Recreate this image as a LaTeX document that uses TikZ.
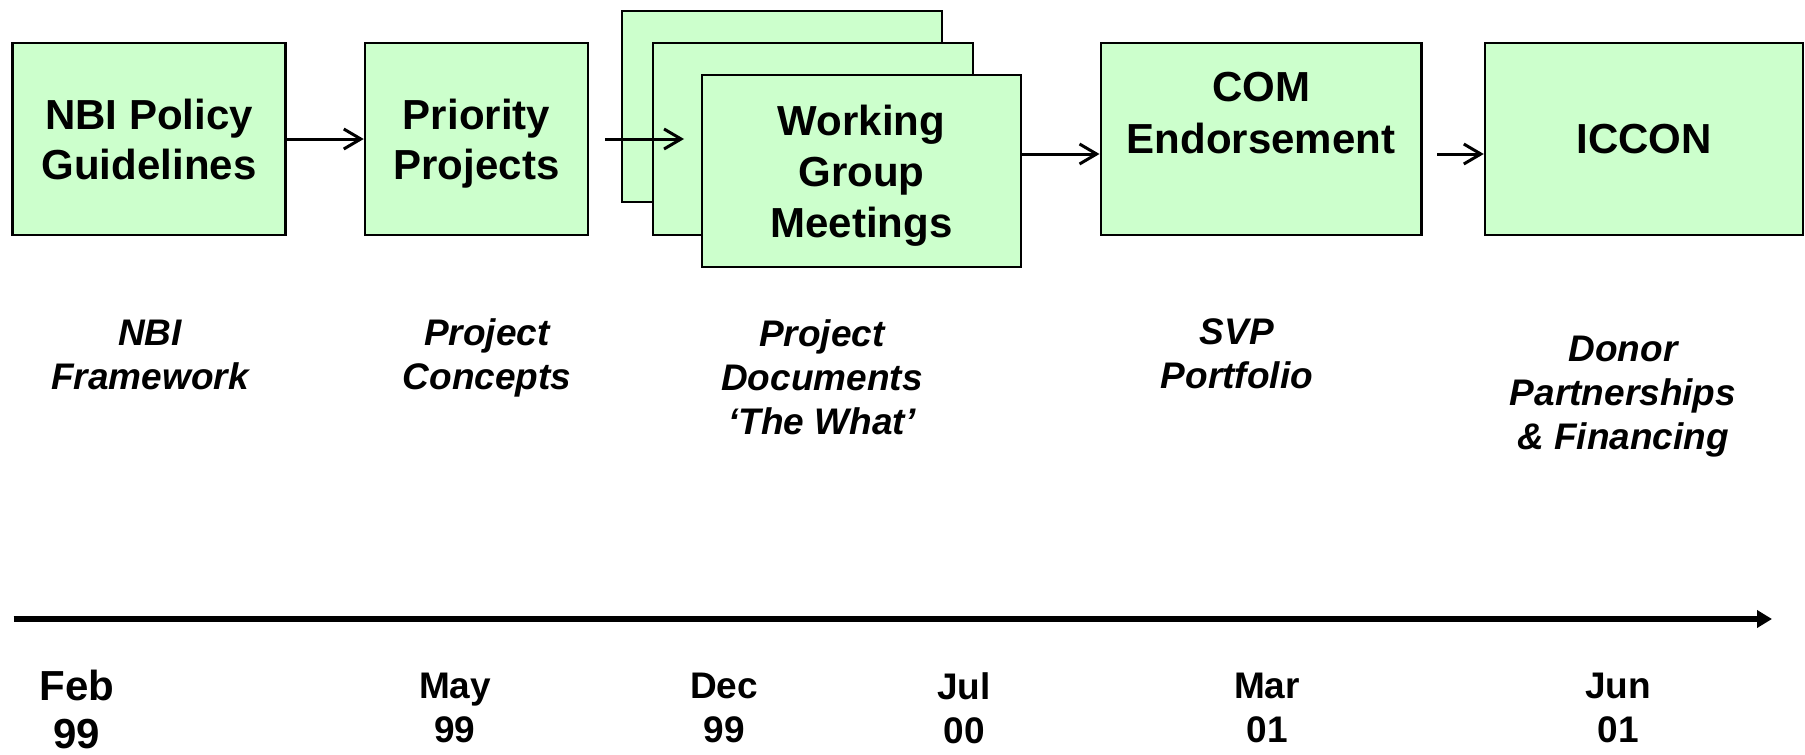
\documentclass[tikz,border=0pt]{standalone}
\usepackage{fontspec}
\setmainfont{Liberation Sans}
\usetikzlibrary{arrows.meta}
\definecolor{boxgreen}{RGB}{204,255,204}
\begin{document}
\begin{tikzpicture}[x=1pt,y=-1pt,
  stagebox/.style={draw=black, line width=2.5pt, fill=boxgreen, inner sep=0pt, align=center,
    font=\bfseries\fontsize{42}{50}\selectfont},
  lab/.style={inner sep=0pt, align=center, font=\bfseries\itshape\fontsize{37}{44}\selectfont},
  datelab/.style={inner sep=0pt, align=center, font=\bfseries\fontsize{37}{44}\selectfont},
  flow/.style={line width=3pt, -{Straight Barb[length=17pt,width=20pt]}},
  timeline/.style={line width=6pt, -{Triangle[length=15pt,width=17pt]}}
]
\useasboundingbox (0,0) rectangle (1805,755);
% stage boxes
\node[stagebox, minimum width=273pt, minimum height=192pt] (b1) at (149,139) {NBI Policy\\Guidelines};
\node[stagebox, minimum width=223pt, minimum height=192pt] (b2) at (476.5,139) {Priority\\\smash{Projects}};
\node[stagebox, minimum width=320pt, minimum height=191pt] (wgb) at (782,106.5) {};
\node[stagebox, minimum width=320pt, minimum height=192pt] (wgm) at (813,139) {};
\node[stagebox, minimum width=319pt, minimum height=192pt, font=\bfseries\fontsize{42}{51}\selectfont] (wg) at (861.5,171) {Working\\Group\\\smash{Meetings}};
\node[stagebox, minimum width=320.5pt, minimum height=192pt, font=\bfseries\fontsize{42}{52}\selectfont] (com) at (1261,139) {COM\\Endorsement\\\phantom{X}};
\node[stagebox, minimum width=318pt, minimum height=192pt] (icc) at (1644,139) {ICCON};
% flow arrows
\draw[flow] (b1.east) -- (b2.west);
\coordinate (a2s) at (605,139);
\coordinate (a2e) at (684,139);
\draw[flow] (a2s) -- (a2e);
\coordinate (a3s) at ([yshift=17pt]wg.east);
\draw[flow] (a3s) -- (a3s -| com.west);
\coordinate (a4s) at (1437,154);
\draw[flow] (a4s) -- (a4s -| icc.west);
% timeline
\coordinate (t0) at (13.5,619);
\coordinate (t1) at (1772,619);
\draw[timeline] (t0) -- (t1);
% outputs
\node[lab] (l1) at (150,354.5) {NBI\\Framework};
\node[lab] (l2) at (487,354.5) {Project\\\smash{Concepts}};
\node[lab] (l3) at (822,377) {Project\\Documents\\‘The What’};
\node[lab] (l4) at (1237,354) {SVP\\Portfolio};
\node[lab] (l5) at (1623,393) {Donor\\Partnerships\\\smash{\& Financing}};
% dates
\node[datelab, font=\bfseries\fontsize{42}{48}\selectfont] (d1) at (77,709) {Feb\\99};
\node[datelab] (d2) at (455,708) {May\\99};
\node[datelab] (d3) at (724,708) {Dec\\99};
\node[datelab] (d4) at (964,708) {Jul\\00};
\node[datelab] (d5) at (1267,708) {Mar\\01};
\node[datelab] (d6) at (1618,708) {Jun\\01};
\end{tikzpicture}
\end{document}
